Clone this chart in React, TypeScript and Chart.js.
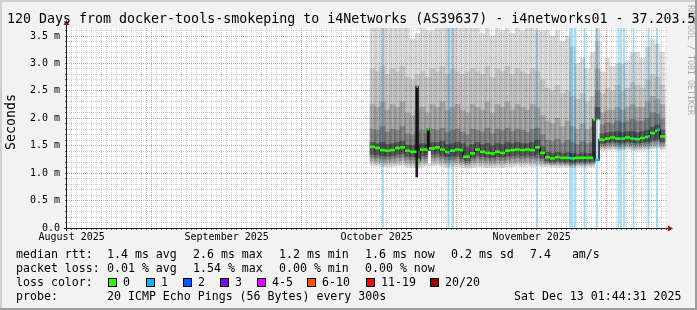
import React, { useEffect, useRef } from "react";
import { Chart, registerables } from "chart.js";

Chart.register(...registerables);

const MONO = "'DejaVu Sans Mono', 'Liberation Mono', monospace";

// ---- texts ----
const titleText = "120 Days from docker-tools-smokeping to i4Networks (AS39637) - i4networks01 - 37.203.5";
const yAxisTitle = "Seconds";
const watermark = "RRDTOOL / TOBI OETIKER";

// ---- axes (x in days since graph start Aug 15 2025 01:44:31) ----
const xMin = 0;
const xMax = 120;
const yMin = 0;
const yMax = 3.646;
const firstMidnight = 0.93;
const monthStartDays = [16.93, 46.93, 77.93, 107.93];
const monthLabelDays = [0.93, 31.93, 61.93, 92.93];
const monthLabels = ["August 2025", "September 2025", "October 2025", "November 2025"];

// ---- smoke (one bin per day) ----
const smokeDays = [
  61.1, 62.1, 63.1, 64.1, 65.1, 66.1, 67.1, 68.1, 69.1, 70.1,
  71.1, 72.1, 73.1, 74.1, 75.1, 76.1, 77.1, 78.1, 79.1, 80.1,
  81.1, 82.1, 83.1, 84.1, 85.1, 86.1, 87.1, 88.1, 89.1, 90.1, 91.1, 92.1, 93.1, 94.1,
  95.1,
  96.1, 97.1, 98.1, 99.1, 100.1, 101.1, 102.1, 103.1, 104.1, 105.1,
  106.1,
  107.1, 108.1, 109.1, 110.1, 111.1, 112.1, 113.1, 114.1, 115.1, 116.1, 117.1, 118.1, 119.1,
];
const smokeTop = [
  3.70, 3.70, 3.70, 3.70, 3.70, 3.70, 3.70, 3.65, 3.45, 3.55,
  3.70, 3.60, 3.60, 3.65, 3.70, 3.70, 3.70, 3.70, 3.70, 3.70,
  3.70, 3.70, 3.55, 3.70, 3.50, 3.70, 3.60, 3.70, 3.55, 3.70, 3.60, 3.70, 3.65, 3.60,
  3.60,
  3.60, 3.50, 3.60, 3.40, 3.50, 3.30, 3.00, 3.10, 2.90, 3.20,
  3.70,
  2.85, 3.10, 2.95, 3.00, 3.00, 3.05, 3.20, 3.20, 3.10, 3.30, 3.45, 3.35, 3.20,
];
const smokeUp2 = [
  2.90, 2.85, 2.95, 2.80, 2.90, 2.85, 2.95, 2.75, 2.70, 2.80,
  2.85, 2.75, 2.90, 2.85, 2.95, 2.80, 2.90, 2.85, 2.80, 2.85,
  2.90, 2.85, 2.80, 2.95, 2.75, 2.90, 2.85, 2.95, 2.80, 2.90, 2.85, 2.80, 2.90, 2.85,
  2.70,
  2.55, 2.50, 2.60, 2.45, 2.50, 2.40, 2.35, 2.45, 2.30, 2.40,
  3.40,
  2.45, 2.55, 2.50, 2.60, 2.50, 2.55, 2.65, 2.60, 2.55, 2.70, 2.80, 2.75, 2.60,
];
const smokeUp3 = [
  2.25, 2.20, 2.30, 2.15, 2.25, 2.20, 2.30, 2.10, 2.05, 2.15,
  2.20, 2.10, 2.25, 2.20, 2.30, 2.15, 2.20, 2.25, 2.15, 2.10,
  2.25, 2.20, 2.15, 2.30, 2.10, 2.25, 2.20, 2.30, 2.15, 2.25, 2.20, 2.15, 2.25, 2.20,
  2.05,
  1.95, 1.90, 2.00, 1.85, 1.95, 1.85, 1.80, 1.90, 1.80, 1.85,
  2.90,
  2.10, 2.15, 2.15, 2.20, 2.15, 2.20, 2.25, 2.20, 2.20, 2.30, 2.40, 2.35, 2.25,
];
const smokeUp4 = [
  1.80, 1.78, 1.85, 1.75, 1.80, 1.78, 1.85, 1.72, 1.70, 1.75,
  1.78, 1.72, 1.80, 1.78, 1.82, 1.75, 1.78, 1.80, 1.75, 1.70,
  1.80, 1.78, 1.75, 1.82, 1.72, 1.80, 1.78, 1.82, 1.76, 1.80, 1.78, 1.75, 1.80, 1.82,
  1.70,
  1.60, 1.58, 1.62, 1.55, 1.60, 1.56, 1.52, 1.58, 1.54, 1.56,
  2.50,
  1.88, 1.92, 1.90, 1.95, 1.92, 1.95, 1.98, 1.95, 1.95, 2.00, 2.10, 2.08, 1.98,
];
const smokeUp5 = [
  1.56, 1.54, 1.56, 1.52, 1.54, 1.56, 1.58, 1.51, 1.50, 1.52,
  1.54, 1.52, 1.56, 1.56, 1.58, 1.52, 1.54, 1.56, 1.54, 1.48,
  1.52, 1.56, 1.52, 1.54, 1.50, 1.54, 1.52, 1.56, 1.54, 1.56, 1.54, 1.54, 1.56, 1.60,
  1.48,
  1.38, 1.36, 1.38, 1.36, 1.37, 1.36, 1.35, 1.37, 1.36, 1.36,
  2.20,
  1.72, 1.74, 1.75, 1.76, 1.74, 1.76, 1.76, 1.74, 1.76, 1.78, 1.84, 1.88, 1.78,
];
const smokeLow5 = [
  1.34, 1.33, 1.32, 1.31, 1.32, 1.34, 1.35, 1.31, 1.30, 1.30,
  1.32, 1.33, 1.34, 1.35, 1.32, 1.30, 1.31, 1.32, 1.26, 1.22,
  1.28, 1.32, 1.30, 1.29, 1.28, 1.30, 1.29, 1.31, 1.32, 1.33, 1.32, 1.33, 1.32, 1.34,
  1.27,
  1.22, 1.21, 1.22, 1.21, 1.21, 1.20, 1.21, 1.21, 1.21, 1.21,
  2.00,
  1.54, 1.56, 1.57, 1.56, 1.56, 1.57, 1.56, 1.55, 1.56, 1.57, 1.60, 1.62, 1.57,
];
const smokeLow4 = [
  1.28, 1.27, 1.26, 1.25, 1.26, 1.28, 1.29, 1.25, 1.24, 1.24,
  1.26, 1.27, 1.28, 1.29, 1.26, 1.24, 1.25, 1.26, 1.21, 1.18,
  1.23, 1.26, 1.24, 1.23, 1.22, 1.24, 1.23, 1.25, 1.26, 1.27, 1.26, 1.27, 1.26, 1.28,
  1.22,
  1.19, 1.18, 1.19, 1.18, 1.18, 1.17, 1.18, 1.18, 1.18, 1.18,
  1.99,
  1.50, 1.52, 1.53, 1.52, 1.52, 1.53, 1.52, 1.51, 1.52, 1.53, 1.56, 1.58, 1.53,
];
const smokeLow3 = [
  1.22, 1.21, 1.20, 1.19, 1.20, 1.22, 1.23, 1.19, 1.18, 1.18,
  1.20, 1.21, 1.22, 1.23, 1.20, 1.19, 1.20, 1.20, 1.17, 1.15,
  1.18, 1.20, 1.19, 1.18, 1.17, 1.19, 1.18, 1.20, 1.20, 1.21, 1.20, 1.21, 1.20, 1.22,
  1.18,
  1.17, 1.16, 1.16, 1.16, 1.16, 1.15, 1.16, 1.16, 1.16, 1.16,
  1.98,
  1.47, 1.48, 1.49, 1.48, 1.48, 1.49, 1.48, 1.47, 1.48, 1.49, 1.51, 1.53, 1.49,
];
const smokeLow2 = [
  1.17, 1.17, 1.16, 1.15, 1.16, 1.17, 1.18, 1.15, 1.14, 1.14,
  1.16, 1.17, 1.17, 1.18, 1.16, 1.15, 1.16, 1.16, 1.14, 1.12,
  1.14, 1.16, 1.15, 1.14, 1.14, 1.15, 1.14, 1.16, 1.16, 1.17, 1.16, 1.17, 1.16, 1.17,
  1.15,
  1.15, 1.14, 1.14, 1.14, 1.14, 1.13, 1.14, 1.14, 1.14, 1.14,
  1.97,
  1.44, 1.45, 1.46, 1.45, 1.45, 1.46, 1.45, 1.44, 1.45, 1.46, 1.47, 1.49, 1.46,
];
const smokeBottom = [
  1.13, 1.13, 1.12, 1.11, 1.12, 1.13, 1.14, 1.11, 1.10, 1.10,
  1.12, 1.13, 1.13, 1.14, 1.12, 1.11, 1.12, 1.12, 1.10, 1.09,
  1.10, 1.12, 1.11, 1.10, 1.10, 1.11, 1.10, 1.12, 1.12, 1.13, 1.12, 1.13, 1.12, 1.13,
  1.12,
  1.12, 1.11, 1.11, 1.11, 1.11, 1.10, 1.11, 1.11, 1.11, 1.11,
  1.96,
  1.41, 1.42, 1.43, 1.42, 1.42, 1.43, 1.42, 1.41, 1.42, 1.43, 1.44, 1.46, 1.43,
];

// ---- median rtt (ms), each value holds until the next day mark ----
const medianDays = [
  60.6, 61.6, 62.6, 63.6, 64.6, 65.6, 66.6, 67.6, 68.6, 69.9,
  70.2, 70.6, 72.1, 72.4, 73.6, 74.6, 75.6, 76.0, 76.6, 77.6,
  78.6, 79.2, 80.6, 81.6, 82.6, 83.6, 84.6, 85.6, 86.6, 87.6,
  88.6, 89.6, 90.6, 91.6, 92.6, 93.6, 94.6, 95.6, 96.6, 97.6,
  98.6, 99.6, 100.6, 101.0, 101.6, 102.6, 103.6, 104.6, 105.2, 105.6,
  106.4, 107.6, 108.6, 109.6, 110.6, 111.0, 111.6, 112.6, 113.2, 113.6,
  114.6, 115.6, 116.2, 116.6, 117.6, 118.0, 118.6,
];
const medianEndDay = 119.6;
const medianValues = [
  1.48, 1.46, 1.42, 1.41, 1.42, 1.46, 1.47, 1.41, 1.39, 2.58,
  1.24, 1.43, 1.80, 1.45, 1.47, 1.43, 1.39, 1.38, 1.41, 1.43,
  1.42, 1.30, 1.36, 1.43, 1.39, 1.37, 1.36, 1.39, 1.37, 1.41,
  1.42, 1.43, 1.42, 1.43, 1.42, 1.47, 1.37, 1.29, 1.27, 1.29,
  1.28, 1.28, 1.27, 1.27, 1.28, 1.28, 1.28, 1.28, 1.98, 1.24,
  1.61, 1.63, 1.65, 1.63, 1.63, 1.63, 1.65, 1.63, 1.63, 1.62,
  1.64, 1.66, 1.67, 1.73, 1.77, 1.79, 1.67,
];
const medianLoss = [
  0, 0, 0, 0, 0, 0, 0, 0, 0, 0,
  0, 0, 0, 0, 0, 0, 0, 1, 0, 0,
  0, 0, 0, 0, 0, 0, 0, 0, 0, 0,
  0, 0, 0, 0, 0, 0, 0, 0, 0, 0,
  0, 0, 1, 0, 0, 0, 0, 0, 0, 1,
  0, 0, 0, 0, 1, 0, 0, 0, 1, 0,
  0, 0, 1, 0, 0, 1, 0,
];

// ---- packet-loss background lines (1/20 lost) ----
const lossLineDays = [63.2, 76.3, 77.2, 94.0, 100.6, 101.0, 101.6, 103.5, 106.0, 110.3, 110.8, 111.4, 113.3, 116.3, 118.0];

// ---- dark spike column and white gaps in the smoke ----
const spikeDays = [69.95];
const spikeLow = [0.93];
const spikeHigh = [2.58];
const gapDays = [70.4, 72.5];
const gapLow = [1.25, 1.18];
const gapHigh = [1.40, 1.40];

// ---- legend ----
const lossLegendLabels = ["0", "1", "2", "3", "4-5", "6-10", "11-19", "20/20"];
const lossLegendColors = ["#26ff00", "#00b8ff", "#0059ff", "#7e00ff", "#dd00ff", "#ff5500", "#ff0000", "#a00000"];
const medianStatsLabel = "median rtt:";
const medianStats = ["1.4 ms avg", "2.6 ms max", "1.2 ms min", "1.6 ms now", "0.2 ms sd", "7.4   am/s"];
const lossStatsLabel = "packet loss:";
const lossStats = ["0.01 % avg", "1.54 % max", "0.00 % min", "0.00 % now"];
const lossColorLabel = "loss color:";
const probeLabel = "probe:";
const probeText = "20 ICMP Echo Pings (56 Bytes) every 300s";
const timestampText = "Sat Dec 13 01:44:31 2025";

// ---- styles (smoke layers are translucent black, stacked outer to inner) ----
const SMOKE_COLORS = [
  "rgba(0,0,0,0.13)",
  "rgba(0,0,0,0.10)",
  "rgba(0,0,0,0.15)",
  "rgba(0,0,0,0.20)",
  "rgba(0,0,0,0.33)",
];
const LOSS_BG = "#96d8f6";
const MINOR_GRID = "rgba(143,143,143,0.42)";
const MAJOR_GRID = "rgba(222,79,79,0.6)";

const near = (a: number, b: number) => Math.abs(a - b) < 0.01;

const rrdFrame = {
  id: "rrdFrame",
  beforeDraw(chart: any) {
    const { ctx, chartArea: a } = chart;
    ctx.save();
    ctx.fillStyle = "#ffffff";
    ctx.fillRect(a.left, a.top, a.right - a.left, a.bottom - a.top);
    ctx.restore();
  },
  afterDraw(chart: any) {
    const { ctx, chartArea: a } = chart;
    ctx.save();
    ctx.strokeStyle = "#1f1f1f";
    ctx.lineWidth = 1;
    ctx.beginPath();
    ctx.moveTo(a.left - 3, a.bottom + 0.5);
    ctx.lineTo(a.right + 2, a.bottom + 0.5);
    ctx.moveTo(a.left - 0.5, a.bottom + 3);
    ctx.lineTo(a.left - 0.5, a.top - 3);
    ctx.stroke();
    ctx.fillStyle = "#801f1f";
    ctx.beginPath();
    ctx.moveTo(a.right + 6, a.bottom + 0.5);
    ctx.lineTo(a.right + 1, a.bottom - 2.5);
    ctx.lineTo(a.right + 1, a.bottom + 3.5);
    ctx.closePath();
    ctx.fill();
    ctx.beginPath();
    ctx.moveTo(a.left - 0.5, a.top - 8);
    ctx.lineTo(a.left - 3.5, a.top - 3);
    ctx.lineTo(a.left + 2.5, a.top - 3);
    ctx.closePath();
    ctx.fill();
    ctx.restore();
  },
};

function floatBars(days: number[], lo: number[], hi: number[], color: string, order: number, thickness: number) {
  return {
    type: "bar" as const,
    data: days.map((d, i) => ({ x: d, y: [lo[i], hi[i]] })),
    backgroundColor: color,
    borderWidth: 0,
    barThickness: thickness,
    grouped: false,
    order,
  };
}

export default function App() {
  const ref = useRef<HTMLCanvasElement>(null);

  useEffect(() => {
    const canvas = ref.current;
    if (!canvas) return;

    const xTicks: number[] = [];
    for (let d = firstMidnight; d < xMax; d += 1) xTicks.push(Math.round(d * 100) / 100);
    const yTicks: number[] = [];
    for (let i = 0; i <= 36; i++) yTicks.push(i / 10);

    const stepData = medianDays.map((d, i) => ({ x: d, y: medianValues[i] }));
    stepData.push({ x: medianEndDay, y: medianValues[medianValues.length - 1] });

    const greenData: { x: number; y: number | null }[] = [];
    medianDays.forEach((d, i) => {
      const end = i + 1 < medianDays.length ? medianDays[i + 1] : medianEndDay;
      greenData.push({ x: d, y: medianValues[i] });
      greenData.push({ x: end, y: medianValues[i] });
      greenData.push({ x: end, y: null });
    });

    const lossBgLow = lossLineDays.map(() => yMin);
    const lossBgHigh = lossLineDays.map(() => yMax);

    const datasets: any[] = [
      floatBars(lossLineDays, lossBgLow, lossBgHigh, LOSS_BG, 100, 1),
      floatBars(smokeDays, smokeBottom, smokeTop, SMOKE_COLORS[0], 95, 5),
      floatBars(smokeDays, smokeLow2, smokeUp2, SMOKE_COLORS[1], 94, 5),
      floatBars(smokeDays, smokeLow3, smokeUp3, SMOKE_COLORS[2], 93, 5),
      floatBars(smokeDays, smokeLow4, smokeUp4, SMOKE_COLORS[3], 92, 5),
      floatBars(smokeDays, smokeLow5, smokeUp5, SMOKE_COLORS[4], 91, 5),
      floatBars(gapDays, gapLow, gapHigh, "#ffffff", 80, 2),
      floatBars(spikeDays, spikeLow, spikeHigh, "#1a1a1a", 70, 2),
      {
        type: "line",
        data: stepData,
        stepped: true,
        borderColor: "#111111",
        borderWidth: 1.5,
        pointRadius: 0,
        order: 20,
      },
      {
        type: "line",
        data: greenData,
        spanGaps: false,
        borderColor: lossLegendColors[0],
        borderWidth: 2.6,
        pointRadius: 0,
        order: 10,
        segment: {
          borderColor: (c: any) => lossLegendColors[medianLoss[Math.floor(c.p0DataIndex / 3)]] || lossLegendColors[0],
        },
      },
    ];

    const chart = new Chart(canvas, {
      type: "bar",
      data: { datasets },
      options: {
        animation: false,
        responsive: false,
        devicePixelRatio: 1,
        events: [],
        layout: { padding: { left: 0, right: 30, top: 28, bottom: 60 } },
        plugins: {
          legend: { display: false },
          title: { display: false },
          tooltip: { enabled: false },
        },
        scales: {
          x: {
            type: "linear",
            min: xMin,
            max: xMax,
            offset: false,
            afterBuildTicks: (s: any) => {
              s.ticks = xTicks.map((v) => ({ value: v }));
            },
            afterFit: (s: any) => {
              s.height = 22;
            },
            grid: {
              offset: false,
              z: 0,
              lineWidth: 1,
              color: (c: any) =>
                monthStartDays.some((m) => near(m, c.tick.value)) ? MAJOR_GRID : MINOR_GRID,
              drawTicks: true,
              tickLength: 2,
              tickColor: "rgba(31,31,31,0.7)",
            },
            border: { display: false, dash: [1, 1] },
            ticks: {
              autoSkip: false,
              maxRotation: 0,
              minRotation: 0,
              padding: 1,
              color: "#000000",
              font: { family: MONO, size: 10 },
              callback: (v: any) => {
                const i = monthLabelDays.findIndex((m) => near(m, Number(v)));
                return i >= 0 ? monthLabels[i] : "";
              },
            },
          },
          y: {
            type: "linear",
            min: yMin,
            max: yMax,
            afterBuildTicks: (s: any) => {
              s.ticks = yTicks.map((v) => ({ value: v }));
            },
            afterFit: (s: any) => {
              s.width = 67;
            },
            grid: {
              z: 0,
              lineWidth: 1,
              color: (c: any) => {
                const v = c.tick.value;
                if (v < 0.01) return "rgba(0,0,0,0)";
                return Math.abs(v * 2 - Math.round(v * 2)) < 1e-6 ? MAJOR_GRID : MINOR_GRID;
              },
              drawTicks: true,
              tickLength: 2,
              tickColor: "rgba(31,31,31,0.7)",
            },
            border: { display: false, dash: [1, 1] },
            ticks: {
              autoSkip: false,
              padding: 5,
              color: "#000000",
              font: { family: MONO, size: 10 },
              callback: (v: any) => {
                const n = Number(v);
                if (Math.abs(n * 2 - Math.round(n * 2)) > 1e-6) return "";
                return n < 0.01 ? "0.0" : n.toFixed(1) + " m";
              },
            },
          },
        },
      },
      plugins: [rrdFrame],
    } as any);

    return () => chart.destroy();
  }, []);

  const txt = (left: number, top: number, size = 11.6): React.CSSProperties => ({
    position: "absolute",
    left,
    top,
    fontSize: size,
    lineHeight: "14px",
    whiteSpace: "pre",
  });

  const statCols = [107, 193, 279, 365, 451, 530];
  const swatchCols = [108, 146, 183, 220, 257, 307, 366, 430];
  const rowTops = [247, 261, 275, 289];

  return (
    <div
      style={{
        position: "fixed",
        left: 0,
        top: 0,
        width: 697,
        height: 310,
        overflow: "hidden",
        background: "#f2f2f2",
        fontFamily: MONO,
        color: "#000",
      }}
    >
      <canvas ref={ref} width={697} height={310} style={{ position: "absolute", left: 0, top: 0, width: 697, height: 310 }} />

      <div style={{ position: "absolute", left: 7, top: 11, fontSize: 13.3, lineHeight: "16px", whiteSpace: "pre" }}>{titleText}</div>

      <div
        style={{
          position: "absolute",
          left: 10.5,
          top: 122,
          fontSize: 13.3,
          lineHeight: "16px",
          whiteSpace: "pre",
          transform: "translate(-50%, -50%) rotate(-90deg)",
        }}
      >
        {yAxisTitle}
      </div>

      <div
        style={{
          position: "absolute",
          left: 691,
          top: 60,
          fontSize: 8.3,
          lineHeight: "10px",
          whiteSpace: "pre",
          color: "rgba(0,0,0,0.3)",
          transform: "translate(-50%, -50%) rotate(90deg)",
        }}
      >
        {watermark}
      </div>

      <div style={txt(16, rowTops[0])}>{medianStatsLabel}</div>
      {medianStats.map((s, i) => (
        <div key={"m" + i} style={txt(statCols[i], rowTops[0])}>{s}</div>
      ))}

      <div style={txt(16, rowTops[1])}>{lossStatsLabel}</div>
      {lossStats.map((s, i) => (
        <div key={"l" + i} style={txt(statCols[i], rowTops[1])}>{s}</div>
      ))}

      <div style={txt(16, rowTops[2])}>{lossColorLabel}</div>
      {lossLegendLabels.map((s, i) => (
        <React.Fragment key={"c" + i}>
          <div
            style={{
              position: "absolute",
              left: swatchCols[i],
              top: rowTops[2] + 3,
              width: 7,
              height: 7,
              border: "1px solid #000",
              background: lossLegendColors[i],
            }}
          />
          <div style={txt(swatchCols[i] + 15, rowTops[2])}>{s}</div>
        </React.Fragment>
      ))}

      <div style={txt(16, rowTops[3])}>{probeLabel}</div>
      <div style={txt(107, rowTops[3])}>{probeText}</div>
      <div style={txt(514, rowTops[3])}>{timestampText}</div>

      <div style={{ position: "absolute", left: 0, top: 0, width: 697, height: 2, background: "#cfcfcf" }} />
      <div style={{ position: "absolute", left: 0, top: 0, width: 2, height: 310, background: "#cfcfcf" }} />
      <div style={{ position: "absolute", left: 695, top: 0, width: 2, height: 310, background: "#9e9e9e" }} />
      <div style={{ position: "absolute", left: 0, top: 308, width: 697, height: 2, background: "#9e9e9e" }} />
    </div>
  );
}
